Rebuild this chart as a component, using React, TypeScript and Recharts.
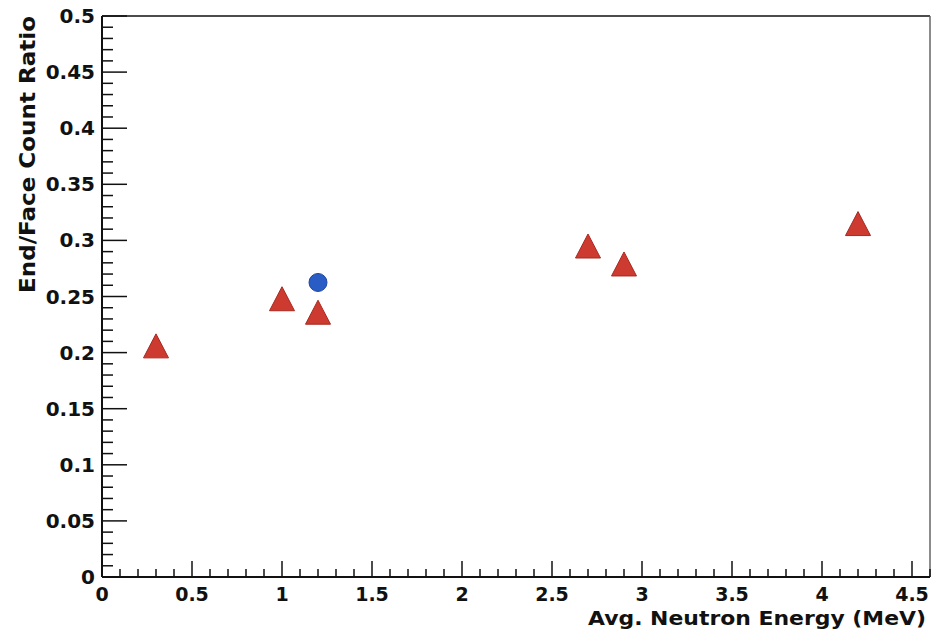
import React from 'react';
import { ScatterChart, Scatter, XAxis, YAxis, ReferenceLine, Label } from 'recharts';

// triangles: measured ratios, circle: single reference point
const triangleEnergy = [0.3, 1.0, 1.2, 2.7, 2.9, 4.2];
const triangleRatio = [0.206, 0.248, 0.236, 0.295, 0.279, 0.315];
const circleEnergy = [1.2];
const circleRatio = [0.2625];

const xMajorLabels = ['0', '0.5', '1', '1.5', '2', '2.5', '3', '3.5', '4', '4.5'];
const yMajorLabels = ['0', '0.05', '0.1', '0.15', '0.2', '0.25', '0.3', '0.35', '0.4', '0.45', '0.5'];

const xTicks: number[] = [];
for (let i = 0; i <= 46; i++) xTicks.push(Math.round(i * 10) / 100);
const yTicks: number[] = [];
for (let i = 0; i <= 50; i++) yTicks.push(Math.round(i) / 100);

const triangles = triangleEnergy.map((x, i) => ({ x, y: triangleRatio[i] }));
const circles = circleEnergy.map((x, i) => ({ x, y: circleRatio[i] }));

const FONT = '"DejaVu Sans", "Liberation Sans", Arial, sans-serif';

const isMajor = (v: number, step: number) => Math.abs(v / step - Math.round(v / step)) < 1e-6;

const XTick = ({ x, y, payload }: any) => {
  const v = payload.value;
  const major = isMajor(v, 0.5);
  const idx = Math.round(v / 0.5);
  return (
    <g>
      <line x1={x} x2={x} y1={y} y2={y - (major ? 16 : 8)} stroke="#111" strokeWidth={1.5} />
      {major && (
        <text x={x} y={y + 24} textAnchor="middle" fontFamily={FONT} fontWeight="bold" fontSize={19} fill="#111">
          {xMajorLabels[idx]}
        </text>
      )}
    </g>
  );
};

const YTick = ({ x, y, payload }: any) => {
  const v = payload.value;
  const major = isMajor(v, 0.05);
  const idx = Math.round(v / 0.05);
  return (
    <g>
      <line x1={x} x2={x + (major ? 25 : 11)} y1={y} y2={y} stroke="#111" strokeWidth={1.5} />
      {major && (
        <text x={x - 7} y={y + 7} textAnchor="end" fontFamily={FONT} fontWeight="bold" fontSize={20} fill="#111">
          {yMajorLabels[idx]}
        </text>
      )}
    </g>
  );
};

const Triangle = ({ cx, cy }: any) => (
  <polygon
    points={`${cx},${cy - 12} ${cx + 12.5},${cy + 12} ${cx - 12.5},${cy + 12}`}
    fill="#cc3a30"
    stroke="#a8281f"
    strokeWidth={1}
  />
);

const Dot = ({ cx, cy }: any) => <circle cx={cx} cy={cy} r={9} fill="#2a5cc6" stroke="#1d46a0" strokeWidth={1} />;

export default function App() {
  return (
    <div style={{ position: 'absolute', left: 0, top: 0, width: 935, height: 643, background: '#fff' }}>
      <ScatterChart width={935} height={643} margin={{ top: 16, right: 5, left: 0, bottom: 0 }}>
        <XAxis
          type="number"
          dataKey="x"
          domain={[0, 4.6]}
          ticks={xTicks}
          interval={0}
          height={66}
          tickSize={0}
          tickMargin={0}
          tickLine={false}
          axisLine={{ stroke: '#111', strokeWidth: 2 }}
          tick={<XTick />}
          allowDataOverflow
        >
          <Label
            content={() => (
              <text
                x={926}
                y={625}
                textAnchor="end"
                fontFamily={FONT}
                fontWeight="bold"
                fontSize={19}
                fill="#111"
                textLength={338}
                lengthAdjust="spacingAndGlyphs"
              >
                Avg. Neutron Energy (MeV)
              </text>
            )}
          />
        </XAxis>
        <YAxis
          type="number"
          dataKey="y"
          domain={[0, 0.5]}
          ticks={yTicks}
          interval={0}
          width={102}
          tickSize={0}
          tickMargin={0}
          tickLine={false}
          axisLine={{ stroke: '#111', strokeWidth: 2 }}
          tick={<YTick />}
          allowDataOverflow
        >
          <Label
            content={() => (
              <text
                transform="translate(35,16) rotate(-90)"
                textAnchor="end"
                fontFamily={FONT}
                fontWeight="bold"
                fontSize={21}
                fill="#111"
                textLength={277}
                lengthAdjust="spacingAndGlyphs"
              >
                End/Face Count Ratio
              </text>
            )}
          />
        </YAxis>
        <ReferenceLine y={0.5} stroke="#111" strokeWidth={1.5} />
        <ReferenceLine x={4.6} stroke="#666" strokeWidth={1.5} />
        <Scatter data={triangles} shape={<Triangle />} isAnimationActive={false} />
        <Scatter data={circles} shape={<Dot />} isAnimationActive={false} />
      </ScatterChart>
    </div>
  );
}
